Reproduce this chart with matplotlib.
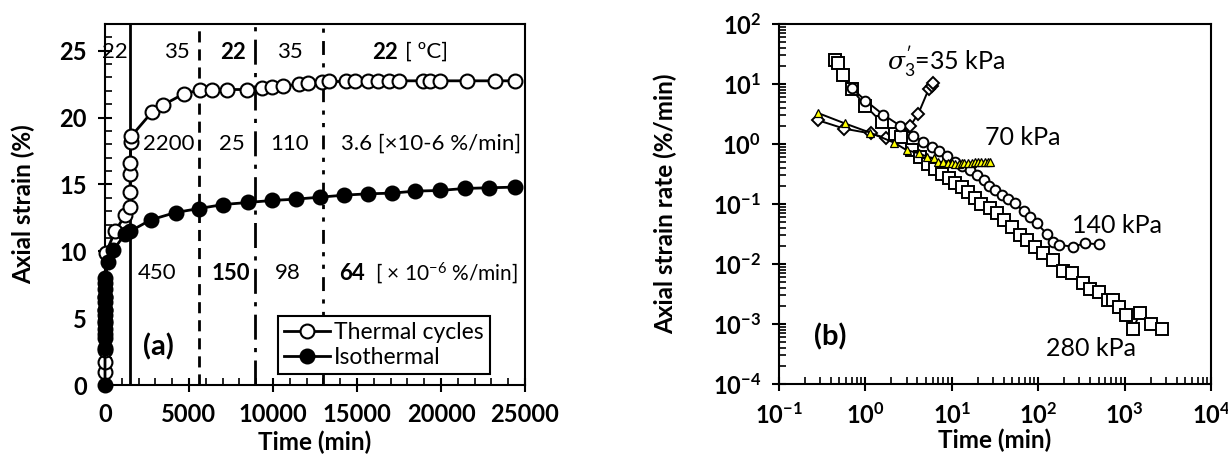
import matplotlib
matplotlib.use('Agg')
import matplotlib.pyplot as plt
from matplotlib.ticker import MultipleLocator, FixedLocator, LogLocator, NullFormatter

plt.rcParams['font.family'] = ['Lato', 'DejaVu Sans']
plt.rcParams['mathtext.fontset'] = 'custom'
plt.rcParams['mathtext.rm'] = 'Lato'
plt.rcParams['mathtext.it'] = 'DejaVu Serif:italic'
plt.rcParams['mathtext.bf'] = 'Lato:bold'

# ---- panel (a): axial strain vs time ----
thermal_t = [0, 0, 0, 0, 0, 0, 0, 60, 600, 1200, 1480, 1490, 1500, 1510, 1530, 1560,
             2820, 3470, 4720, 5650, 6390, 7240, 8470, 9320, 9920, 10610, 11550, 12100,
             12900, 13330, 14330, 14880, 15680, 16270, 16900, 17500, 18900, 19350,
             19940, 21550, 23210, 24400]
thermal_s = [1.0, 1.7, 2.6, 3.8, 4.6, 5.6, 6.6, 9.9, 11.5, 12.7, 13.3, 14.4, 15.8, 16.6,
             18.2, 18.6, 20.45, 20.95, 21.8, 22.05, 22.05, 22.1, 22.1, 22.2, 22.3, 22.35,
             22.5, 22.55, 22.65, 22.7, 22.7, 22.7, 22.7, 22.7, 22.7, 22.75, 22.75, 22.75,
             22.75, 22.75, 22.75, 22.75]
iso_t = [0, 0, 0, 0, 0, 0, 0, 0, 0, 0, 0, 0, 200, 500, 1200, 1500, 2720, 4200, 5600,
         7050, 8500, 9920, 11350, 12820, 14230, 15680, 17090, 18450, 19920, 21430,
         22840, 24400]
iso_s = [0.0, 2.8, 3.5, 4.2, 4.8, 5.2, 5.6, 6.2, 6.6, 7.2, 7.6, 8.0, 9.2, 10.1, 11.3,
         11.5, 12.35, 12.9, 13.2, 13.5, 13.65, 13.8, 13.9, 14.05, 14.2, 14.3, 14.35,
         14.5, 14.55, 14.7, 14.75, 14.8]

stage_t = [1500, 5600, 8900, 13000]
temp_x = [600, 4290, 7620, 11000, 16670]
temp_lbl = ['22', '35', '22', '35', '22']
temp_bold = [False, False, True, False, True]
rate_tc_x = [3810, 7560, 11010]
rate_tc_lbl = ['2200', '25', '110']
rate_iso_x = [3080, 7500, 10900, 14690]
rate_iso_lbl = ['450', '150', '98', '64']
rate_iso_bold = [False, True, False, True]
xticks_a = [0, 5000, 10000, 15000, 20000, 25000]
yticks_a = [0, 5, 10, 15, 20, 25]

# ---- panel (b): axial strain rate vs time ----
t35 = [0.28, 0.57, 1.15, 1.75, 2.3, 2.8, 3.3, 4.1, 5.4, 5.9, 6.1]
r35 = [2.5, 1.8, 1.5, 1.25, 1.35, 1.7, 2.0, 3.2, 8.2, 9.3, 10.2]
t70 = [0.28, 0.58, 1.14, 2.16, 3.0, 4.15, 5.2, 6.2, 7.0, 8.0, 9.0, 10, 11, 12, 13, 14,
       15.5, 17, 18.5, 20, 22, 24, 26, 28]
r70 = [3.3, 2.2, 1.54, 1.05, 0.79, 0.70, 0.61, 0.58, 0.51, 0.50, 0.48, 0.48, 0.47, 0.47,
       0.48, 0.48, 0.49, 0.49, 0.50, 0.50, 0.50, 0.51, 0.51, 0.51]
t140 = [0.70, 1.0, 1.6, 2.54, 3.6, 4.7, 5.9, 7.05, 8.8, 11, 13, 16.4, 19.5, 23.4, 27,
        31.7, 38, 45, 54, 68, 80, 96, 125, 150, 172, 251, 350, 500]
r140 = [8.5, 5.3, 3.1, 2.0, 1.38, 1.09, 0.9, 0.77, 0.64, 0.5, 0.43, 0.37, 0.3, 0.25, 0.2,
        0.17, 0.141, 0.12, 0.103, 0.075, 0.06, 0.048, 0.032, 0.0236, 0.0208, 0.0195,
        0.0221, 0.0214]
t280 = [0.45, 0.48, 0.55, 0.70, 1.0, 1.55, 2.2, 2.6, 3.5, 4.3, 5.3, 6.4, 7.7, 9.2, 11,
        13, 15.5, 18.5, 22, 27.5, 33, 40, 50, 62, 75, 92, 115, 150, 195, 245, 330, 400,
        500, 650, 740, 870, 1030, 1260, 1510, 2000, 2680]
r280 = [25, 22, 14, 8.1, 4.3, 2.3, 1.45, 1.3, 0.8, 0.6, 0.47, 0.39, 0.32, 0.27, 0.22,
        0.19, 0.16, 0.125, 0.10, 0.085, 0.07, 0.054, 0.042, 0.031, 0.025, 0.0195, 0.0151,
        0.0117, 0.0075, 0.0071, 0.0049, 0.0039, 0.0034, 0.0025, 0.0025, 0.0019, 0.00142,
        0.00083, 0.00155, 0.00101, 0.00083]
decades_x = [-1, 0, 1, 2, 3, 4]
decades_y = [-4, -3, -2, -1, 0, 1, 2]

fig = plt.figure(figsize=(12.28, 4.69), dpi=100)
ax1 = fig.add_axes([105 / 1228, 84 / 469, 420 / 1228, 361 / 469])
ax2 = fig.add_axes([779 / 1228, 85 / 469, 432 / 1228, 360 / 469])

# panel (a)
for t, ls in zip(stage_t, ['-', (0, (4, 2.5)), (0, (9, 3, 1.5, 3)), (0, (5, 3, 1.5, 3, 1.5, 3))]):
    ax1.axvline(t, color='black', lw=2, ls=ls, zorder=1)
ax1.plot(thermal_t, thermal_s, '-o', color='black', lw=2, ms=10, mfc='white', mew=1.5,
         label='Thermal cycles', clip_on=False, zorder=3)
ax1.plot(iso_t, iso_s, '-o', color='black', lw=2, ms=10, mfc='black', mew=1.5,
         label='Isothermal', clip_on=False, zorder=3)

ax1.set_xlim(0, 25000)
ax1.set_ylim(0, 27)
ax1.set_xticks(xticks_a, [str(v) for v in xticks_a], fontweight='bold')
ax1.set_yticks(yticks_a, [str(v) for v in yticks_a], fontweight='bold')
ax1.xaxis.set_minor_locator(MultipleLocator(1000))
ax1.yaxis.set_minor_locator(MultipleLocator(1))
ax1.set_xlabel('Time (min)', fontsize=17.5, fontweight='bold')
ax1.set_ylabel('Axial strain (%)', fontsize=17.5, fontweight='bold')
ax1.xaxis.set_label_coords(0.5, -0.125)
ax1.yaxis.set_label_coords(-0.165, 0.5)

for x, s, b in zip(temp_x, temp_lbl, temp_bold):
    ax1.text(x, 24.9, s, ha='center', va='center', fontsize=16,
             fontweight='bold' if b else 'normal')
ax1.text(17850, 24.9, '[ ºC]', ha='left', va='center', fontsize=16)
for x, s in zip(rate_tc_x, rate_tc_lbl):
    ax1.text(x, 18.05, s, ha='center', va='center', fontsize=16)
ax1.text(14050, 18.05, '3.6 [×10-6 %/min]', ha='left', va='center', fontsize=16)
for x, s, b in zip(rate_iso_x, rate_iso_lbl, rate_iso_bold):
    ax1.text(x, 8.35, s, ha='center', va='center', fontsize=16,
             fontweight='bold' if b else 'normal')
ax1.text(16100, 8.35, '[ × 10$^{-6}$ %/min]', ha='left', va='center', fontsize=15)
ax1.text(3200, 2.85, '(a)', ha='center', va='center', fontsize=21, fontweight='bold')

leg = ax1.legend(loc='lower left', bbox_to_anchor=(0.412, 0.03), borderaxespad=0,
                 fancybox=False, edgecolor='black', handlelength=2.0, fontsize=16.5,
                 handletextpad=0.2, borderpad=0.25, labelspacing=0.2, framealpha=1)
leg.get_frame().set_linewidth(1.5)

# panel (b)
ax2.plot(t35, r35, '-D', color='black', lw=1.4, ms=6.5, mfc='white', mew=1.4)
ax2.plot(t280, r280, '-s', color='black', lw=1.4, ms=8, mfc='white', mew=1.4)
ax2.plot(t140, r140, '-o', color='black', lw=1.4, ms=7, mfc='white', mew=1.4)
ax2.plot(t70, r70, '-^', color='black', lw=1.4, ms=6, mfc='yellow', mew=0.9)
ax2.set_xscale('log')
ax2.set_yscale('log')
ax2.set_xlim(1e-1, 1e4)
ax2.set_ylim(1e-4, 1e2)
ax2.xaxis.set_major_locator(FixedLocator([10.0 ** d for d in decades_x]))
ax2.yaxis.set_major_locator(FixedLocator([10.0 ** d for d in decades_y]))
ax2.set_xticklabels([r'$\mathbf{10^{%d}}$' % d for d in decades_x])
ax2.set_yticklabels([r'$\mathbf{10^{%d}}$' % d for d in decades_y])
ax2.xaxis.set_minor_locator(LogLocator(base=10, subs=range(2, 10), numticks=20))
ax2.yaxis.set_minor_locator(LogLocator(base=10, subs=range(2, 10), numticks=20))
ax2.xaxis.set_minor_formatter(NullFormatter())
ax2.yaxis.set_minor_formatter(NullFormatter())
ax2.set_xlabel('Time (min)', fontsize=17.5, fontweight='bold')
ax2.set_ylabel('Axial strain rate (%/min)', fontsize=17.5, fontweight='bold')
ax2.xaxis.set_label_coords(0.5, -0.125)
ax2.yaxis.set_label_coords(-0.235, 0.5)

for s, x, y in [('70 kPa', 985, 137), ('140 kPa', 1072, 225), ('280 kPa', 1046, 348)]:
    ax2.annotate(s, xy=(x, 469 - y), xycoords='figure pixels', fontsize=18,
                 ha='left', va='center')
ax2.annotate(r"$\sigma_{3}^{\prime}$=35 kPa", xy=(887, 469 - 62), xycoords='figure pixels',
             fontsize=18, ha='left', va='center')
ax2.annotate('(b)', xy=(830, 469 - 337), xycoords='figure pixels', fontsize=21,
             fontweight='bold', ha='center', va='center')

for ax in (ax1, ax2):
    for sp in ax.spines.values():
        sp.set_linewidth(1.5)
    ax.tick_params(which='major', direction='inout', length=10, width=1.5,
                   labelsize=17, pad=8)
    ax.tick_params(which='minor', direction='in', length=5, width=1.2)

plt.savefig('out.png', dpi=100)
